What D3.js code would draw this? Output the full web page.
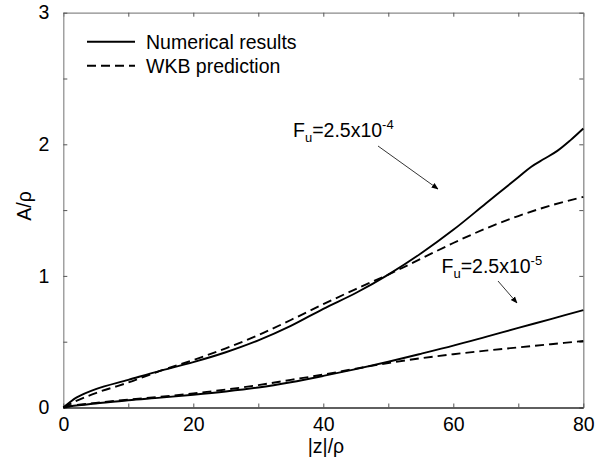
<!DOCTYPE html>
<html>
<head>
<meta charset="utf-8">
<script src="https://cdn.jsdelivr.net/npm/d3@7"></script>
<style>
  html, body { margin: 0; padding: 0; background: #fff; }
  svg text { font-family: "Liberation Sans", Arial, Helvetica, sans-serif; fill: #000; }
</style>
</head>
<body>
<svg id="chart" width="606" height="468"></svg>
<script>
// Amplitude A/ρ versus distance |z|/ρ for two forcing strengths
const zUpper = [0, 1, 2, 5, 10, 15, 20, 25, 30, 35, 40, 45, 50, 55, 60, 65, 70, 72, 74, 76, 78, 80];
const numUpper = [0, 0.04, 0.075, 0.14, 0.21, 0.28, 0.345, 0.42, 0.51, 0.62, 0.75, 0.87, 1.01, 1.17, 1.35, 1.55, 1.75, 1.83, 1.89, 1.95, 2.03, 2.12];

const zWkbUpper = [0, 1, 2, 5, 10, 15, 20, 25, 30, 35, 40, 45, 50, 55, 60, 65, 70, 75, 80];
const wkbUpper = [0, 0.025, 0.05, 0.11, 0.19, 0.28, 0.36, 0.45, 0.55, 0.665, 0.785, 0.90, 1.01, 1.13, 1.25, 1.36, 1.455, 1.535, 1.60];

const zLower = [0, 2, 5, 10, 15, 20, 25, 30, 35, 40, 45, 50, 55, 60, 65, 70, 75, 80];
const numLower = [0, 0.015, 0.03, 0.055, 0.075, 0.097, 0.122, 0.152, 0.192, 0.24, 0.292, 0.348, 0.408, 0.47, 0.537, 0.605, 0.672, 0.74];
const wkbLower = [0, 0.018, 0.035, 0.06, 0.082, 0.107, 0.136, 0.17, 0.21, 0.25, 0.295, 0.338, 0.374, 0.405, 0.432, 0.457, 0.481, 0.505];

const xMajorTicks = [0, 20, 40, 60, 80];
const xMinorTicks = [10, 30, 50, 70];
const yMajorTicks = [0, 1, 2, 3];
const yMinorTicks = [0.5, 1.5, 2.5];

const legendLabels = ["Numerical results", "WKB prediction"];
const annotations = [
  { base: "F", sub: "u", mid: "=2.5x10", sup: "-4" },
  { base: "F", sub: "u", mid: "=2.5x10", sup: "-5" }
];

const svg = d3.select("#chart");
const plotLeft = 63.3, plotRight = 583.3, plotTop = 12.7, plotBottom = 407.5;
const fontSize = "19.5px";

const x = d3.scaleLinear().domain([0, 80]).range([plotLeft, plotRight]);
const y = d3.scaleLinear().domain([0, 3]).range([plotBottom, plotTop]);

const frameColor = "#8a8a8a";

// Axes: inward ticks on all four sides
function styleAxis(g, domainColor, domainWidth) {
  g.select(".domain").attr("stroke", domainColor).attr("stroke-width", domainWidth);
  g.selectAll(".tick line").attr("stroke", "#555").attr("stroke-width", 1);
  g.selectAll(".tick text").style("font-size", fontSize).attr("fill", "#000");
}

const gTop = svg.append("g").attr("transform", `translate(0,${plotTop})`)
  .call(d3.axisTop(x).tickValues(xMajorTicks.concat(xMinorTicks)).tickSizeInner(-4).tickSizeOuter(0).tickFormat(""));
styleAxis(gTop, frameColor, 1.2);

const gRight = svg.append("g").attr("transform", `translate(${plotRight},0)`)
  .call(d3.axisRight(y).tickValues(yMajorTicks.concat(yMinorTicks)).tickSizeInner(-4).tickSizeOuter(0).tickFormat(""));
styleAxis(gRight, frameColor, 1.3);

const gLeft = svg.append("g").attr("transform", `translate(${plotLeft},0)`)
  .call(d3.axisLeft(y).tickValues(yMajorTicks).tickSizeInner(-4).tickSizeOuter(0).tickPadding(14).tickFormat(d3.format("d")));
gLeft.append("g").call(d3.axisLeft(y).tickValues(yMinorTicks).tickSizeInner(-4).tickSizeOuter(0).tickFormat(""))
  .select(".domain").remove();
styleAxis(gLeft, frameColor, 1.2);

const gBottom = svg.append("g").attr("transform", `translate(0,${plotBottom})`)
  .call(d3.axisBottom(x).tickValues(xMajorTicks).tickSizeInner(-4).tickSizeOuter(0).tickPadding(10).tickFormat(d3.format("d")));
gBottom.append("g").call(d3.axisBottom(x).tickValues(xMinorTicks).tickSizeInner(-4).tickSizeOuter(0).tickFormat(""))
  .select(".domain").remove();
styleAxis(gBottom, "#2a2a2a", 1.6);

// Axis titles
svg.append("text")
  .attr("x", 326).attr("y", 453)
  .attr("text-anchor", "middle")
  .style("font-size", fontSize)
  .text("|z|/ρ");

svg.append("text")
  .attr("transform", "translate(31,206) rotate(-90)")
  .attr("text-anchor", "middle")
  .style("font-size", fontSize)
  .text("A/ρ");

// Curves
const line = d3.line()
  .x(d => x(d[0]))
  .y(d => y(d[1]))
  .curve(d3.curveCatmullRom.alpha(0.5));

const plot = svg.append("g");
const series = [
  { z: zUpper, v: numUpper, dash: null },
  { z: zWkbUpper, v: wkbUpper, dash: "9,5" },
  { z: zLower, v: numLower, dash: null },
  { z: zLower, v: wkbLower, dash: "9,5" }
];
series.forEach(s => {
  plot.append("path")
    .datum(s.z.map((z, i) => [z, s.v[i]]))
    .attr("d", line)
    .attr("fill", "none")
    .attr("stroke", "#000")
    .attr("stroke-width", 1.9)
    .attr("stroke-dasharray", s.dash);
});

// Legend
const legend = svg.append("g");
[[41.7, null], [65.7, "9,5"]].forEach((row, i) => {
  legend.append("line")
    .attr("x1", 87).attr("x2", 135)
    .attr("y1", row[0]).attr("y2", row[0])
    .attr("stroke", "#000").attr("stroke-width", 1.9)
    .attr("stroke-dasharray", row[1]);
  legend.append("text")
    .attr("x", 146).attr("y", row[0] + 6.8)
    .style("font-size", fontSize)
    .text(legendLabels[i]);
});

// Annotations with arrows
svg.append("defs").append("marker")
  .attr("id", "arrowhead")
  .attr("viewBox", "0 0 10 10")
  .attr("refX", 9).attr("refY", 5)
  .attr("markerWidth", 7).attr("markerHeight", 7)
  .attr("markerUnits", "userSpaceOnUse")
  .attr("orient", "auto")
  .append("path")
  .attr("d", "M0,1 L10,5 L0,9 Z")
  .attr("fill", "#000");

const notePlacement = [
  { tx: 293, ty: 136.7, arrow: [378, 146, 438, 189] },
  { tx: 441.5, ty: 273, arrow: [498, 281, 517, 303] }
];

annotations.forEach((a, i) => {
  const p = notePlacement[i];
  const t = svg.append("text")
    .attr("x", p.tx).attr("y", p.ty)
    .style("font-size", fontSize);
  t.append("tspan").text(a.base);
  t.append("tspan").attr("dy", 5).style("font-size", "13px").text(a.sub);
  t.append("tspan").attr("dy", -5).text(a.mid);
  t.append("tspan").attr("dy", -8).style("font-size", "13px").text(a.sup);

  svg.append("line")
    .attr("x1", p.arrow[0]).attr("y1", p.arrow[1])
    .attr("x2", p.arrow[2]).attr("y2", p.arrow[3])
    .attr("stroke", "#000").attr("stroke-width", 0.8)
    .attr("marker-end", "url(#arrowhead)");
});
</script>
</body>
</html>
